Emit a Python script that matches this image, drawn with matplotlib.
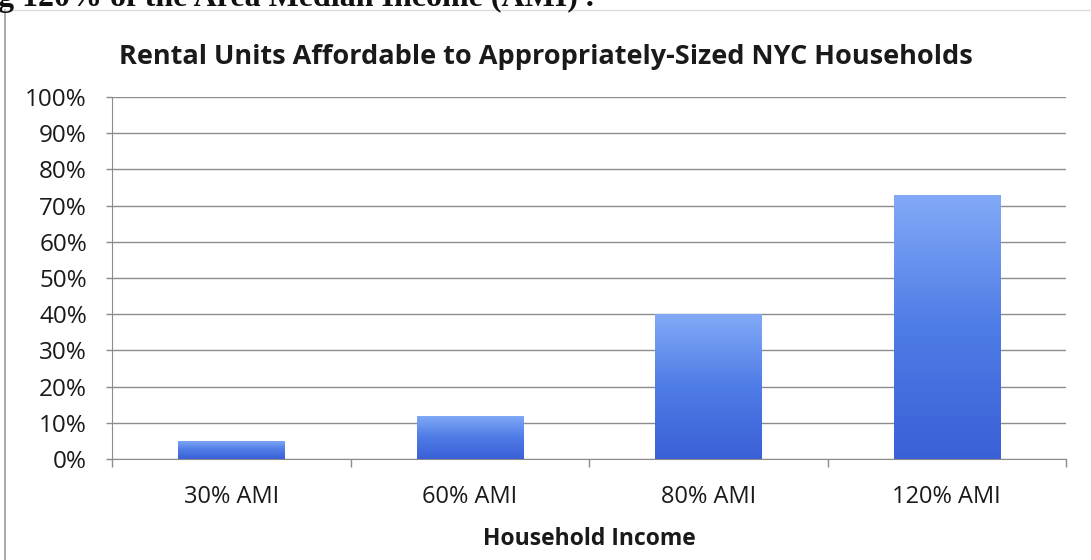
import matplotlib
matplotlib.use("Agg")
import matplotlib.pyplot as plt
import numpy as np
from matplotlib.colors import LinearSegmentedColormap
from matplotlib.ticker import FixedLocator, PercentFormatter

categories = ["30% AMI", "60% AMI", "80% AMI", "120% AMI"]
values = [0.05, 0.12, 0.40, 0.73]
yticks = [0.0, 0.1, 0.2, 0.3, 0.4, 0.5, 0.6, 0.7, 0.8, 0.9, 1.0]

title = "Rental Units Affordable to Appropriately-Sized NYC Households"
xlabel = "Household Income"
header = "g 120% of the Area Median Income (AMI) ."

FONT = "Open Sans"

W, H = 1091, 560
fig = plt.figure(figsize=(W / 100, H / 100), dpi=100)
fig.patch.set_facecolor("white")

ax = fig.add_axes([112 / W, 1 - 459 / H, (1066 - 112) / W, (459 - 97) / H])

x = np.arange(len(categories))
bars = ax.bar(x, values, width=0.445, color="none", edgecolor="none", zorder=3)

cmap = LinearSegmentedColormap.from_list(
    "bar", ["#3a60d6", "#4f7ce6", "#82aaf7"])
grad = np.linspace(0, 1, 256).reshape(-1, 1)
for b in bars:
    x0, y0 = b.get_x(), b.get_y()
    x1, y1 = x0 + b.get_width(), y0 + b.get_height()
    im = ax.imshow(grad, cmap=cmap, origin="lower", aspect="auto",
                   extent=[x0, x1, y0, y1], zorder=3)
    im.set_clip_path(b)

ax.set_xlim(-0.5, len(categories) - 0.5)
ax.set_ylim(0, 1.0)

ax.set_yticks(yticks)
ax.yaxis.set_major_formatter(PercentFormatter(1.0, decimals=0))
ax.yaxis.grid(True, color="#8c8c8c", linewidth=1.0, zorder=0)
ax.set_axisbelow(True)

ax.set_xticks(x)
ax.set_xticklabels(categories)
ax.xaxis.set_minor_locator(FixedLocator(np.arange(-0.5, len(categories), 1.0)))
ax.tick_params(axis="x", which="major", length=0, pad=19,
               labelsize=17, labelcolor="#1a1a1a")
ax.tick_params(axis="x", which="minor", length=6, width=1, color="#8c8c8c",
               direction="out")
ax.tick_params(axis="y", which="major", length=4, width=1, color="#8c8c8c",
               pad=14, labelsize=17.5, labelcolor="#1a1a1a")
for lab in ax.get_xticklabels() + ax.get_yticklabels():
    lab.set_fontfamily(FONT)

for s in ["top", "right"]:
    ax.spines[s].set_visible(False)
ax.spines["left"].set_color("#8c8c8c")
ax.spines["bottom"].set_color("#8c8c8c")

ax.set_xlabel(xlabel, fontfamily=FONT, fontweight="bold", fontsize=16.5,
              color="#1a1a1a", labelpad=13)

fig.text(0.5, 1 - 57 / H, title, ha="center", va="center",
         fontfamily=FONT, fontweight="bold", fontsize=19.5, color="#1a1a1a")

fig.text(-2 / W, 1 - 6 / H, header, ha="left", va="baseline",
         fontfamily="Liberation Serif", fontweight="bold", fontsize=23,
         color="#111111")

# outer chart frame
fig.add_artist(plt.Line2D([5 / W, 5 / W], [0, 1 - 10 / H],
                          color="#9a9a9a", linewidth=1.2))
fig.add_artist(plt.Line2D([5 / W, 1], [1 - 10 / H, 1 - 10 / H],
                          color="#dcdcdc", linewidth=1.0))

fig.savefig("out.png", dpi=100)
